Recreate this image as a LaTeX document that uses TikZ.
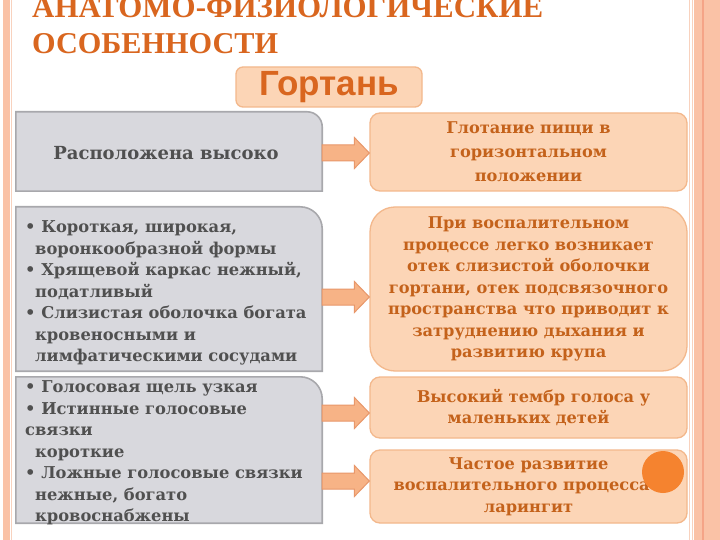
\documentclass[tikz,border=0pt]{standalone}
\usepackage{fontspec}
\setmainfont{DejaVu Serif}
\newfontfamily\titlefont{Liberation Serif}
\newfontfamily\headfont{Liberation Sans}
\usetikzlibrary{calc}
\definecolor{strip}{HTML}{FAC2A6}
\definecolor{stripline}{HTML}{F5A487}
\definecolor{paleline}{HTML}{F8D2BE}
\definecolor{titlecol}{HTML}{D9661F}
\definecolor{grayfill}{HTML}{D8D8DD}
\definecolor{grayedge}{HTML}{A8A8AC}
\definecolor{graytext}{HTML}{505050}
\definecolor{peach}{HTML}{FCD5B6}
\definecolor{peachedge}{HTML}{F3B88C}
\definecolor{browntext}{HTML}{C4621B}
\definecolor{arrowfill}{HTML}{F7B386}
\definecolor{arrowedge}{HTML}{E8976A}
\definecolor{dotcol}{HTML}{F5832F}
\tikzset{
  graybox/.style={fill=grayfill, draw=grayedge, line width=1.6pt},
  peachbox/.style={fill=peach, draw=peachedge, line width=1.3pt, rounded corners=10pt,
    text=browntext, font=\bfseries\fontsize{16.2}{21.5}\selectfont, align=center, inner sep=0pt},
  lefttext/.style={text=graytext, font=\bfseries\fontsize{16.3}{21.5}\selectfont, align=left, inner sep=0pt, anchor=west},
  barrow/.style={fill=arrowfill, draw=arrowedge, line width=1pt, line join=miter},
  hidden/.style={draw=none, inner sep=0pt}
}
\newcommand{\blockarr}[3]{%
  \coordinate (ya) at (0,#3-8);
  \coordinate (yb) at (0,#3-15.5);
  \coordinate (yc) at (0,#3);
  \coordinate (yd) at (0,#3+15.5);
  \coordinate (ye) at (0,#3+8);
  \draw[barrow] (#1.east |- ya) -- ([xshift=-15pt]#2.west |- ya) -- ([xshift=-15pt]#2.west |- yb)
    -- (#2.west |- yc) -- ([xshift=-15pt]#2.west |- yd) -- ([xshift=-15pt]#2.west |- ye)
    -- (#1.east |- ye) -- cycle;}
\newcommand{\grayshape}[2]{%
  \draw[graybox] (#1.south west) -- (#1.north west) -- ([xshift=-#2]#1.north east)
    arc[start angle=90, end angle=0, radius=#2] -- (#1.south east) -- cycle;}
\begin{document}
\begin{tikzpicture}[x=1pt, y=-1pt]
\useasboundingbox (0,0) rectangle (720,540);
\fill[white] (0,0) rectangle (720,540);
% side decorations
\fill[strip] (3,0) rectangle (9.5,540);
\draw[paleline, line width=1pt] (11.5,0) -- (11.5,540);
\draw[paleline, line width=0.8pt] (689.5,0) -- (689.5,540);
\draw[paleline, line width=0.8pt] (692,0) -- (692,540);
\fill[strip] (693.5,0) rectangle (720,540);
\draw[stripline, line width=1.2pt] (703,0) -- (703,540);
% title
\node[hidden, anchor=base west, text=titlecol] (t1) at (32,18)
  {\resizebox{511pt}{!}{\titlefont\bfseries\fontsize{35}{35}\selectfont АНАТОМО-ФИЗИОЛОГИЧЕСКИЕ}};
\node[hidden, anchor=base west, text=titlecol] (t2) at (32,53.5)
  {\resizebox{246pt}{!}{\titlefont\bfseries\fontsize{35}{35}\selectfont ОСОБЕННОСТИ}};
% header box
\node[fill=peach, draw=peachedge, line width=1.3pt, rounded corners=7pt,
  minimum width=186pt, minimum height=40pt, inner sep=0pt, text=titlecol,
  font=\headfont\bfseries\fontsize{35}{35}\selectfont] (head) at (329,87) {Гортань};
% left gray boxes (geometry holders)
\node[hidden, minimum width=306pt, minimum height=79pt] (L1) at (169,151.5) {};
\node[hidden, minimum width=306pt, minimum height=164pt] (L2) at (169,289) {};
\node[hidden, minimum width=306pt, minimum height=146pt] (L3) at (169,450) {};
\grayshape{L1}{15pt}
\grayshape{L2}{22pt}
\grayshape{L3}{22pt}
\node[lefttext, anchor=center, font=\bfseries\fontsize{18}{21.5}\selectfont] (L1t) at (166,153) {Расположена высоко};
\node[lefttext] (L2t) at (25,293)
 {• Короткая, широкая,\\
  \hspace*{10pt}воронкообразной формы\\
  • Хрящевой каркас нежный,\\
  \hspace*{10pt}податливый\\
  • Слизистая оболочка богата\\
  \hspace*{10pt}кровеносными и\\
  \hspace*{10pt}лимфатическими сосудами};
\node[lefttext] (L3t) at (25,453)
 {• Голосовая щель узкая\\
  • Истинные голосовые\\
  связки\\
  \hspace*{10pt}короткие\\
  • Ложные голосовые связки\\
  \hspace*{10pt}нежные, богато\\
  \hspace*{10pt}кровоснабжены};
% right peach boxes
\node[peachbox, minimum width=317pt, minimum height=78pt, font=\bfseries\fontsize{16.2}{24}\selectfont] (R1) at (528.5,152)
 {Глотание пищи в\\горизонтальном\\положении};
\node[peachbox, rounded corners=25pt, minimum width=317pt, minimum height=164pt] (R2) at (528.5,289)
 {При воспалительном\\процессе легко возникает\\отек слизистой оболочки\\гортани, отек подсвязочного\\пространства что приводит к\\затруднению дыхания и\\развитию крупа};
\node[peachbox, minimum width=317pt, minimum height=61pt] (R3) at (528.5,407.5)
 {\hspace*{10pt}Высокий тембр голоса у\\маленьких детей};
\node[peachbox, minimum width=317pt, minimum height=73pt] (R4) at (528.5,486.5)
 {Частое развитие\\воспалительного процесса –\\ларингит};
% arrows
\blockarr{L1}{R1}{153}
\blockarr{L2}{R2}{297}
\blockarr{L3}{R3}{413}
\blockarr{L3}{R4}{481}
% decorative dot
\fill[dotcol] (663,472) circle[radius=21pt];
\end{tikzpicture}
\end{document}
